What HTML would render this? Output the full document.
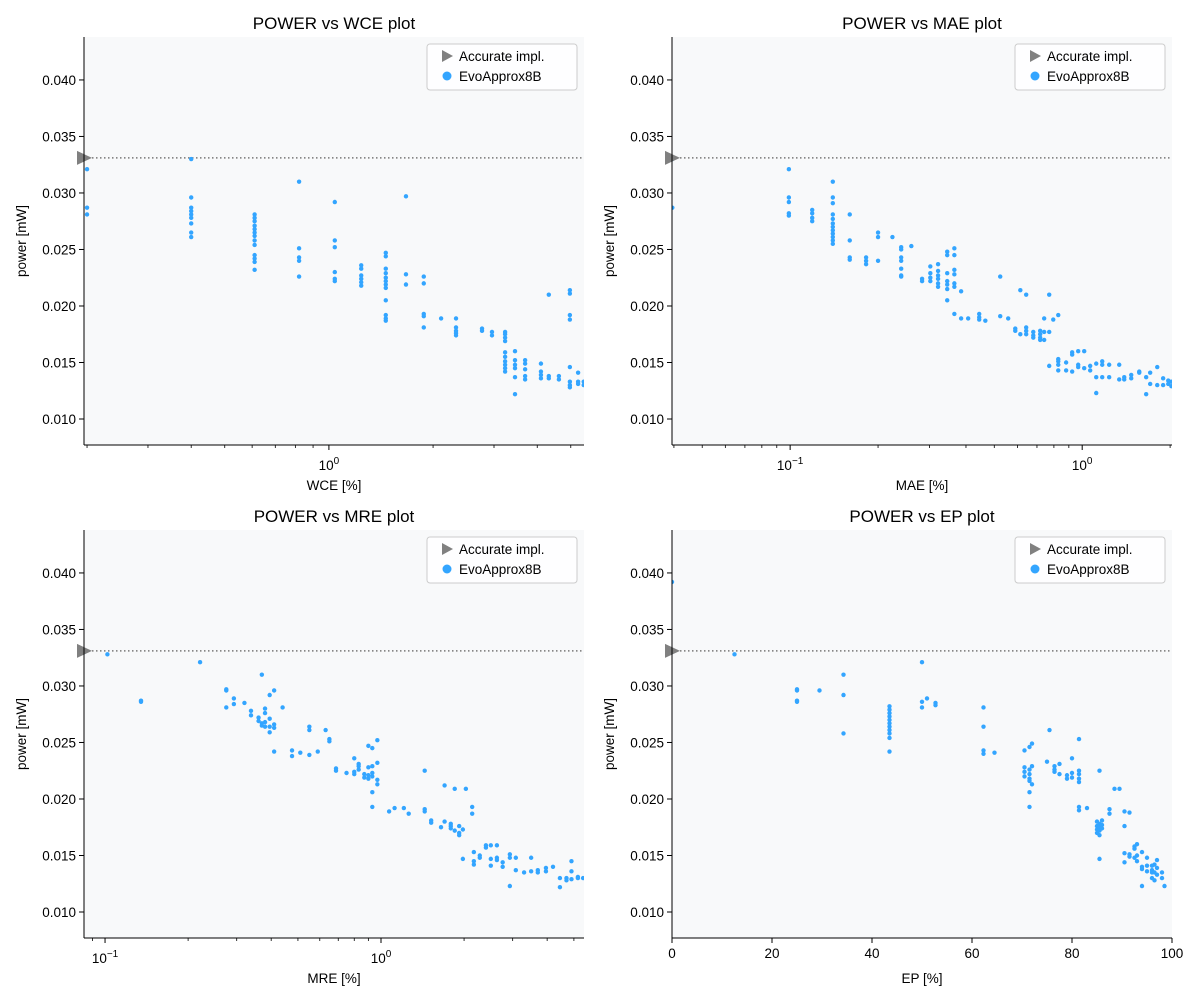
<!DOCTYPE html>
<html><head><meta charset="utf-8"><style>
html,body{margin:0;padding:0;background:#fff;}
svg{display:block;font-family:"Liberation Sans","DejaVu Sans",sans-serif;}
</style></head><body>
<svg id="fig" width="1200" height="1000" viewBox="0 0 1200 1000" xmlns="http://www.w3.org/2000/svg"></svg>
<script>
// ---- data ----
const accuratePower = 0.0331;
const yTicks = [0.010, 0.015, 0.020, 0.025, 0.030, 0.035, 0.040];
const yTickLabels = ["0.010","0.015","0.020","0.025","0.030","0.035","0.040"];
const epTicks = [0, 20, 40, 60, 80, 100];

const wceX = [0.2,0.40,0.61,0.82,1.04,1.24,1.46,1.67,1.88,2.11,2.33,2.77,2.96,3.23,3.45,3.69,4.10,4.32,4.62,4.97,5.25,5.45];
const wceY = [[0.0321,0.0287,0.0281],[0.0330,0.0296,0.0287,0.0284,0.0281,0.0278,0.0273,0.0265,0.0261],
[0.0281,0.0278,0.0275,0.0271,0.0268,0.0265,0.0262,0.0258,0.0254,0.0245,0.0242,0.0239,0.0232],
[0.0310,0.0251,0.0243,0.0240,0.0226],[0.0292,0.0258,0.0252,0.0230,0.0224,0.0222],
[0.0236,0.0233,0.0227,0.0224,0.0221,0.0218],
[0.0247,0.0244,0.0233,0.0229,0.0225,0.0222,0.0219,0.0216,0.0205,0.0192,0.0189,0.0187],
[0.0297,0.0228,0.0219],[0.0226,0.0220,0.0193,0.0191,0.0181],[0.0189],
[0.0189,0.0181,0.0178,0.0176,0.0174],[0.0180,0.0178],[0.0177,0.0174],
[0.0177,0.0175,0.0172,0.0169,0.0159,0.0155,0.0151,0.0148,0.0145,0.0142],
[0.0160,0.0152,0.0148,0.0145,0.0137,0.0122],[0.0152,0.0149,0.0144,0.0138,0.0135],
[0.0149,0.0142,0.0139,0.0136],[0.0210,0.0138,0.0136],[0.0138,0.0135],
[0.0214,0.0211,0.0192,0.0188,0.0146,0.0133,0.0130,0.0128],[0.0141,0.0133,0.0131],[0.0133,0.0130]];

const maeX = [0.0395,0.099,0.119,0.140,0.160,0.182,0.200,0.224,0.240,0.260,0.283,0.302,0.321,0.345,0.365,0.385,0.407,0.444,0.466,0.524,0.558,0.590,0.614,0.643,0.680,0.718,0.741,0.771,0.796,0.828,0.881,0.924,0.969,1.016,1.065,1.117,1.171,1.237,1.339,1.393,1.472,1.568,1.656,1.709,1.807,1.893,1.971,2.02];
const maeY = [[0.0330,0.0287],[0.0321,0.0296,0.0292,0.0282,0.0280],[0.0285,0.0282,0.0278,0.0275],
[0.0310,0.0296,0.0291,0.0281,0.0277,0.0273,0.0270,0.0267,0.0264,0.0261,0.0258,0.0255],
[0.0281,0.0258,0.0243,0.0241],[0.0243,0.0240,0.0237],[0.0265,0.0261,0.0240],[0.0261],
[0.0252,0.0250,0.0243,0.0240,0.0233,0.0227,0.0226],[0.0253],[0.0224,0.0222],
[0.0235,0.0229,0.0225,0.0222],[0.0237,0.0231,0.0227,0.0224,0.0220,0.0217],
[0.0248,0.0245,0.0229,0.0222,0.0219,0.0215,0.0205],[0.0251,0.0245,0.0232,0.0228,0.0220,0.0217,0.0193],
[0.0213,0.0189],[0.0189],[0.0193,0.0190,0.0188],[0.0187],[0.0226,0.0191],[0.0189],[0.0180,0.0178],
[0.0214,0.0175],[0.0210,0.0181,0.0178,0.0175],[0.0177,0.0174,0.0172],[0.0178,0.0175,0.0172,0.0170],
[0.0189,0.0177,0.0170],[0.0210,0.0177,0.0147],[0.0188],[0.0192,0.0153,0.0151,0.0148,0.0143],
[0.0150,0.0143],[0.0159,0.0157,0.0142],[0.0160,0.0148,0.0146],[0.0160,0.0145],[0.0147,0.0143],
[0.0149,0.0137,0.0123],[0.0151,0.0148,0.0137],[0.0148,0.0137],[0.0148,0.0135],[0.0137,0.0135],
[0.0139,0.0136],[0.0142,0.0141],[0.0137,0.0122],[0.0141,0.0131],[0.0146,0.0130],[0.0136,0.0130],
[0.0134,0.0131],[0.0133,0.0129]];

const mreX = [0.084,0.102,0.135,0.221,0.275,0.293,0.32,0.338,0.36,0.37,0.38,0.395,0.41,0.44,0.476,0.51,0.55,0.59,0.63,0.65,0.687,0.75,0.8,0.83,0.87,0.9,0.93,0.97,1.07,1.12,1.21,1.26,1.44,1.52,1.65,1.7,1.79,1.85,1.92,1.98,2.03,2.14,2.17,2.28,2.4,2.5,2.63,2.76,2.93,3.08,3.3,3.5,3.7,3.96,4.2,4.45,4.7,4.9,5.17,5.4];
const mreY = [[0.0330],[0.0328],[0.0287,0.0286],[0.0321],[0.0297,0.0296,0.0281],[0.0289,0.0284],[0.0285],
[0.0278,0.0274],[0.0272,0.0269],[0.0310,0.0267,0.0265],[0.0280,0.0276,0.0268,0.0264],
[0.0292,0.0271,0.0264,0.0259],[0.0296,0.0266,0.0263,0.0242],[0.0281],[0.0243,0.0238],[0.0241],
[0.0264,0.0261,0.0239],[0.0242],[0.0261],[0.0253,0.0251],[0.0227,0.0225],[0.0223],
[0.0236,0.0222,0.0224],[0.0231,0.0229,0.0226],[0.0222,0.0219],[0.0247,0.0228,0.0221,0.0218],
[0.0245,0.0229,0.0223,0.0220,0.0206,0.0193],[0.0252,0.0232,0.0217,0.0213],[0.0189],[0.0192],[0.0192],
[0.0187],[0.0225,0.0191,0.0189],[0.0181,0.0179],[0.0175],[0.0212,0.0180],[0.0176,0.0178,0.0174],
[0.0209,0.0172],[0.0176,0.0170,0.0168],[0.0147,0.0173],[0.0209],[0.0193,0.0187],[0.0153,0.0145,0.0142],
[0.0150,0.0148],[0.0159,0.0157],[0.0159,0.0141,0.0147],[0.0159,0.0148,0.0146],[0.0144,0.0140],
[0.0151,0.0148,0.0123],[0.0148,0.0137],[0.0135],[0.0148,0.0136],[0.0137,0.0135],[0.0139,0.0136],
[0.0140],[0.0122,0.0130],[0.0130,0.0128],[0.0145,0.0136,0.0129],[0.0131,0.0130],[0.0130]];

const epX = [0,12.5,25,29.5,34.3,43.5,50,51,52.7,62.3,64.5,70.5,71.5,72,75,75.5,76.5,77.5,79,80,81.4,83,85,85.5,86,87.5,88.5,89.5,90.5,91.5,92.5,93,94,95,96,96.5,97,98,98.5];
const epY = [[0.0392,0.0330],[0.0328],[0.0297,0.0296,0.0287,0.0286],[0.0296],[0.0310,0.0292,0.0258],
[0.0282,0.0279,0.0276,0.0273,0.0270,0.0267,0.0264,0.0261,0.0258,0.0254,0.0242],[0.0321,0.0286,0.0281],
[0.0289],[0.0285,0.0283],[0.0281,0.0264,0.0243,0.0240],[0.0241],[0.0243,0.0228,0.0224,0.0220],
[0.0246,0.0226,0.0222,0.0218,0.0216,0.0206,0.0193],[0.0249,0.0229,0.0213],[0.0233],[0.0261],
[0.0229,0.0226,0.0224],[0.0231,0.0222],[0.0221,0.0218],[0.0236,0.0223,0.0219],
[0.0253,0.0225,0.0222,0.0218,0.0215,0.0193,0.0190],[0.0192],[0.0180,0.0176,0.0173,0.0170],
[0.0225,0.0178,0.0175,0.0172,0.0168,0.0147],[0.0181,0.0177,0.0174],[0.0191,0.0187],[0.0209],[0.0209],
[0.0189,0.0176,0.0152,0.0144],[0.0188,0.0149,0.0151],[0.0158,0.0148,0.0156],[0.0160,0.0150,0.0145],
[0.0123,0.0140,0.0138,0.0153],[0.0136,0.0141,0.0148],[0.0135,0.0137,0.0141,0.0130],
[0.0142,0.0135,0.0128],[0.0146,0.0139,0.0133],[0.0135,0.0130],[0.0123]];

// ---- drawing ----
const NS = "http://www.w3.org/2000/svg";
const svg = document.getElementById("fig");
function mk(tag, attrs, parent) {
  const e = document.createElementNS(NS, tag);
  for (const k in attrs) e.setAttribute(k, attrs[k]);
  (parent || svg).appendChild(e);
  return e;
}
const Y_MIN = 0.0077, Y_MAX = 0.0438;

const panels = [
  {key:"wce", title:"POWER vs WCE plot", xl:"WCE [%]", x0:84, y0:37, log:true, min:0.196, max:5.46, xs:wceX, ys:wceY, majors:[0]},
  {key:"mae", title:"POWER vs MAE plot", xl:"MAE [%]", x0:672, y0:37, log:true, min:0.0394, max:2.03, xs:maeX, ys:maeY, majors:[-1,0]},
  {key:"mre", title:"POWER vs MRE plot", xl:"MRE [%]", x0:84, y0:530, log:true, min:0.0839, max:5.44, xs:mreX, ys:mreY, majors:[-1,0]},
  {key:"ep", title:"POWER vs EP plot", xl:"EP [%]", x0:672, y0:530, log:false, min:0, max:100, xs:epX, ys:epY}
];

panels.forEach((p, pi) => {
  const W = 500, H = 408;
  const x1 = p.x0 + W, y1 = p.y0 + H;
  const g = mk("g", {});
  
  
  const xs = v => p.log
    ? p.x0 + (Math.log10(v) - Math.log10(p.min)) / (Math.log10(p.max) - Math.log10(p.min)) * W
    : p.x0 + (v - p.min) / (p.max - p.min) * W;
  const ys = v => y1 - (v - Y_MIN) / (Y_MAX - Y_MIN) * H;

  const bg = mk("rect", {x:p.x0, y:p.y0, width:W, height:H, fill:"#f8f9fa"}, g);
  
  
  const cp = mk("clipPath", {id:"clip" + pi}, g);
  mk("rect", {x:p.x0, y:p.y0, width:W, height:H}, cp);

  const rl = mk("line", {x1:p.x0, x2:x1, y1:ys(accuratePower), y2:ys(accuratePower), stroke:"#777", "stroke-width":1.5, "stroke-dasharray":"1.5,2.5"}, g);
  
  

  const pg = mk("g", {"clip-path":"url(#clip" + pi + ")"}, g);
  p.xs.forEach((xv, i) => {
    p.ys[i].forEach(yv => {
      const c = mk("circle", {cx:xs(xv), cy:ys(yv), r:2.2, fill:"#33a5ff"}, pg);
      
      
    });
  });
  const ay = ys(accuratePower);
  const tri = mk("polygon", {points:`${p.x0-7},${ay-7} ${p.x0-7},${ay+7} ${p.x0+8},${ay}`, fill:"#808080"}, g);
  
  

  mk("line", {x1:p.x0, x2:p.x0, y1:p.y0, y2:y1, stroke:"#000", "stroke-width":1}, g);
  mk("line", {x1:p.x0, x2:x1, y1:y1, y2:y1, stroke:"#000", "stroke-width":1}, g);

  yTicks.forEach((t, i) => {
    const y = ys(t);
    mk("line", {x1:p.x0-5, x2:p.x0, y1:y, y2:y, stroke:"#000"}, g);
    const tx = mk("text", {x:p.x0-8, y:y+5, "text-anchor":"end", "font-size":13.5}, g);
    tx.textContent = yTickLabels[i];
    
    
  });
  if (p.log) {
    const lo = Math.floor(Math.log10(p.min)), hi = Math.ceil(Math.log10(p.max));
    for (let d = lo; d <= hi; d++) {
      for (let m = 2; m <= 9; m++) {
        const v = m * Math.pow(10, d);
        if (v >= p.min && v <= p.max) mk("line", {x1:xs(v), x2:xs(v), y1:y1, y2:y1+3, stroke:"#000", "stroke-width":0.8}, g);
      }
    }
    p.majors.forEach(d => {
      const x = xs(Math.pow(10, d));
      mk("line", {x1:x, x2:x, y1:y1, y2:y1+5, stroke:"#000"}, g);
      const tx = mk("text", {x:x, y:y1+25, "text-anchor":"middle", "font-size":13.5}, g);
      
      
      tx.appendChild(document.createTextNode("10"));
      const sp = mk("tspan", {dy:-6, "font-size":10}, tx);
      sp.textContent = d < 0 ? "\u2212" + (-d) : String(d);
    });
  } else {
    epTicks.forEach(t => {
      const x = xs(t);
      mk("line", {x1:x, x2:x, y1:y1, y2:y1+5, stroke:"#000"}, g);
      const tx = mk("text", {x:x, y:y1+20, "text-anchor":"middle", "font-size":13.5}, g);
      tx.textContent = String(t);
      
      
    });
  }
  const xl = mk("text", {x:p.x0 + W/2, y:y1+45, "text-anchor":"middle", "font-size":13.5}, g);
  xl.textContent = p.xl;
  
  
  const yl = mk("text", {x:0, y:0, "text-anchor":"middle", "font-size":13.5, transform:`translate(${p.x0-58},${p.y0+H/2}) rotate(-90)`}, g);
  yl.textContent = "power [mW]";
  
  
  const tt = mk("text", {x:p.x0 + W/2, y:p.y0-8, "text-anchor":"middle", "font-size":17}, g);
  tt.textContent = p.title;
  
  

  const lg = mk("g", {}, g);
  
  
  const lx = p.x0 + 343, ly = p.y0 + 7;
  mk("rect", {x:lx, y:ly, width:150, height:46, rx:3, fill:"#fff", "fill-opacity":0.85, stroke:"#ccc"}, lg);
  mk("polygon", {points:`${lx+15},${ly+6} ${lx+15},${ly+18} ${lx+26},${ly+12}`, fill:"#808080"}, lg);
  const t1 = mk("text", {x:lx+32, y:ly+17, "font-size":13.5}, lg);
  t1.textContent = "Accurate impl.";
  
  
  mk("circle", {cx:lx+20, cy:ly+32, r:4.5, fill:"#33a5ff"}, lg);
  const t2 = mk("text", {x:lx+32, y:ly+37, "font-size":13.5}, lg);
  t2.textContent = "EvoApprox8B";
  
  
});
</script>
</body></html>
